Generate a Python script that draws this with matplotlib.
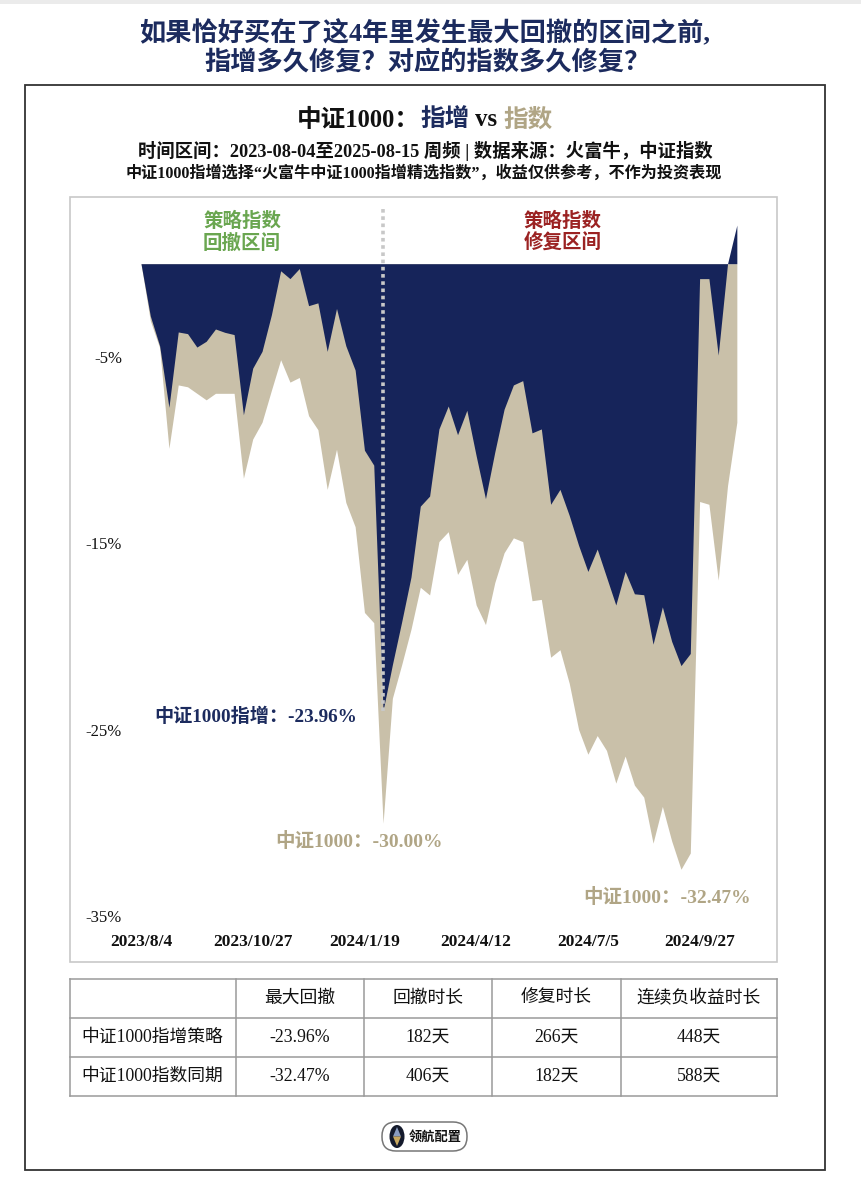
import numpy as np
import matplotlib
matplotlib.use("Agg")
import matplotlib.pyplot as plt
from matplotlib.patches import Rectangle, FancyBboxPatch, Ellipse, Polygon

plt.rcParams['font.family'] = ['Liberation Serif', 'Noto Sans CJK SC', 'DejaVu Sans']

# 周度回撤 (%)，2023/8/4 起
strategy_dd = [0, -2.8, -4.4, -7.7, -3.66, -3.75, -4.47, -4.16, -3.5, -3.68,
               -3.8, -8.1, -5.6, -4.7, -2.75, -0.38, -0.8, -0.26, -2.25, -2.1,
               -4.7, -2.4, -4.4, -5.7, -10.0, -10.8, -23.96, -21.5, -19.2, -16.8,
               -13.0, -12.46, -8.86, -7.63, -9.17, -7.86, -10.3, -12.6, -10.1, -7.8,
               -6.5, -6.27, -9.07, -8.86, -12.9, -12.1, -13.5, -15.1, -16.5, -15.3,
               -16.8, -18.3, -16.5, -17.7, -17.75, -20.4, -18.4, -20.25, -21.55, -20.9,
               -0.8, -0.8, -4.9, 0.0, 2.07]
index_dd = [0, -3.05, -4.5, -9.9, -6.5, -6.6, -6.95, -7.3, -6.95, -6.95,
            -6.95, -11.5, -9.4, -8.5, -6.8, -5.15, -6.35, -6.1, -8.15, -8.9,
            -12.1, -9.95, -12.8, -14.1, -18.7, -19.25, -30.0, -23.3, -21.5, -19.6,
            -17.35, -17.76, -14.9, -14.37, -16.66, -15.85, -18.3, -19.35, -17.1, -15.5,
            -14.7, -14.9, -18.07, -18.0, -21.1, -20.7, -22.5, -24.97, -26.3, -25.3,
            -26.1, -27.85, -26.4, -27.96, -28.6, -31.07, -29.1, -30.95, -32.47, -31.6,
            -12.75, -12.9, -16.96, -11.9, -8.5]
tick_pos = [0, 12, 24, 36, 48, 60]
tick_labels = ['2023/8/4', '2023/10/27', '2024/1/19', '2024/4/12', '2024/7/5', '2024/9/27']
y_ticks = [-5, -15, -25, -35]

table_header = ['', '最大回撤', '回撤时长', '修复时长', '连续负收益时长']
row_strategy = ['中证1000指增策略', '-23.96%', '182天', '266天', '448天']
row_index = ['中证1000指数同期', '-32.47%', '406天', '182天', '588天']

NAVY = '#16245a'
NAVY_TXT = '#1c2b5e'
TAN = '#c9c0a9'
TAN_TXT = '#b0a585'
GREEN = '#6aa650'
RED = '#9b2222'

W, H = 861, 1178
fig = plt.figure(figsize=(W / 100, H / 100), dpi=100)
fig.patch.set_facecolor('white')

# 背景层，用像素坐标
bg = fig.add_axes([0, 0, 1, 1])
bg.set_xlim(0, W)
bg.set_ylim(H, 0)
bg.axis('off')

bg.add_patch(Rectangle((0, 0), W, 4, color='#ebebeb', lw=0))
bg.add_patch(Rectangle((25, 85), 800, 1085, fill=False, ec='#333333', lw=1.3))
bg.add_patch(Rectangle((70, 197), 707, 765, fill=False, ec='#c8c8c8', lw=1.2))

bg.text(425, 33, '如果恰好买在了这4年里发生最大回撤的区间之前,', fontsize=18.9,
        fontweight='bold', color=NAVY_TXT, ha='center', va='center')
bg.text(428, 62, '指增多久修复？对应的指数多久修复？', fontsize=18.9,
        fontweight='bold', color=NAVY_TXT, ha='center', va='center')


def seg_text(parts, cx, cy, size):
    r = fig.canvas.get_renderer()
    objs = []
    total = 0
    for s, c in parts:
        t = bg.text(0, cy, s, fontsize=size, color=c, fontweight='bold',
                    ha='left', va='center')
        w = t.get_window_extent(renderer=r).width
        objs.append((t, w))
        total += w
    x = cx - total / 2
    for t, w in objs:
        t.set_x(x)
        x += w


seg_text([('中证1000：', '#111111'), ('指增', NAVY_TXT), (' vs ', '#111111'),
          ('指数', TAN_TXT)], 425, 120, 17.7)
bg.text(425, 151, '时间区间：2023-08-04至2025-08-15 周频 | 数据来源：火富牛，中证指数',
        fontsize=13.2, fontweight='bold', color='#111111', ha='center', va='center')
bg.text(424, 174, '中证1000指增选择“火富牛中证1000指增精选指数”，收益仅供参考，不作为投资表现',
        fontsize=11.6, fontweight='bold', color='#111111', ha='center', va='center')

# 主图
L, R, T, B = 70, 777, 197, 930
x0, step = 141, 9.31
y0, ppp = 263.7, 18.65
ax = fig.add_axes([L / W, 1 - B / H, (R - L) / W, (B - T) / H])
ax.patch.set_alpha(0)
x = np.arange(len(strategy_dd))
ax.fill_between(x, 0, index_dd, color=TAN, lw=0, zorder=1)
ax.fill_between(x, 0, strategy_dd, color=NAVY, lw=0, zorder=2)

i_min = int(np.argmin(strategy_dd))
ax.vlines(i_min, strategy_dd[i_min], 3.1, colors='#c8c8c8', linestyles=(0, (1, 1)),
          lw=2.6, zorder=3)

ax.set_xlim((L - x0) / step, (R - x0) / step)
ax.set_ylim(-(B - y0) / ppp, (y0 - T) / ppp)
for s in ax.spines.values():
    s.set_visible(False)
ax.set_xticks(tick_pos)
ax.set_xticklabels(tick_labels, fontsize=12.5, fontweight='bold')
ax.set_yticks(y_ticks)
ax.set_yticklabels([f'{v}%' for v in y_ticks], fontsize=12)
ax.tick_params(axis='x', length=0, pad=3, colors='#111111')
ax.tick_params(axis='y', length=0, pad=-52 * 0.72, colors='#111111')

ax.annotate(f'中证1000指增：{strategy_dd[i_min]:.2f}%', (i_min, strategy_dd[i_min]),
            xytext=(-26, -6), textcoords='offset pixels', ha='right', va='center',
            fontsize=13.8, fontweight='bold', color=NAVY_TXT)
j = int(np.argmin(index_dd[:40]))
ax.annotate(f'中证1000：{index_dd[j]:.2f}%', (j, index_dd[j]),
            xytext=(-24, -18), textcoords='offset pixels', ha='center', va='center',
            fontsize=14, fontweight='bold', color=TAN_TXT)
k = int(np.argmin(index_dd))
ax.annotate(f'中证1000：{index_dd[k]:.2f}%', (k, index_dd[k]),
            xytext=(-14, -28), textcoords='offset pixels', ha='center', va='center',
            fontsize=14, fontweight='bold', color=TAN_TXT)

bg.text(242, 232, '策略指数\n回撤区间', fontsize=14, fontweight='bold', color=GREEN,
        ha='center', va='center', linespacing=1.15)
bg.text(563, 232, '策略指数\n修复区间', fontsize=14, fontweight='bold', color=RED,
        ha='center', va='center', linespacing=1.15)

# 表格
col_x = [70, 235.5, 364, 492, 621, 777]
row_y = [979, 1018, 1057, 1096]
for yy in row_y:
    bg.plot([col_x[0], col_x[-1]], [yy, yy], color='#9a9a9a', lw=1.1)
for xx in col_x:
    bg.plot([xx, xx], [row_y[0], row_y[-1]], color='#9a9a9a', lw=1.1)
for r, row in enumerate([table_header, row_strategy, row_index]):
    cy = (row_y[r] + row_y[r + 1]) / 2
    for c, val in enumerate(row):
        if c == 0:
            bg.text(81, cy, val, fontsize=12.8, color='#111111', ha='left', va='center')
        else:
            bg.text((col_x[c] + col_x[c + 1]) / 2, cy, val, fontsize=12.8,
                    color='#111111', ha='center', va='center')

# 标志
bg.add_patch(FancyBboxPatch((382, 1122), 85, 29, boxstyle='round,pad=0,rounding_size=14',
                            fc='white', ec='#777777', lw=1.1))
bg.add_patch(Ellipse((397, 1136.5), 15, 23, fc='#141a2c', ec='none'))
bg.add_patch(Polygon([(397, 1127), (401, 1136.5), (393, 1136.5)], fc='#8a9cc0', ec='none'))
bg.add_patch(Polygon([(393, 1136.5), (401, 1136.5), (397, 1146)], fc='#c9a85e', ec='none'))
bg.text(435, 1137, '领航配置', fontsize=9.5, fontweight='bold', color='#111111',
        ha='center', va='center')

fig.savefig('out.png', dpi=100, facecolor='white')
